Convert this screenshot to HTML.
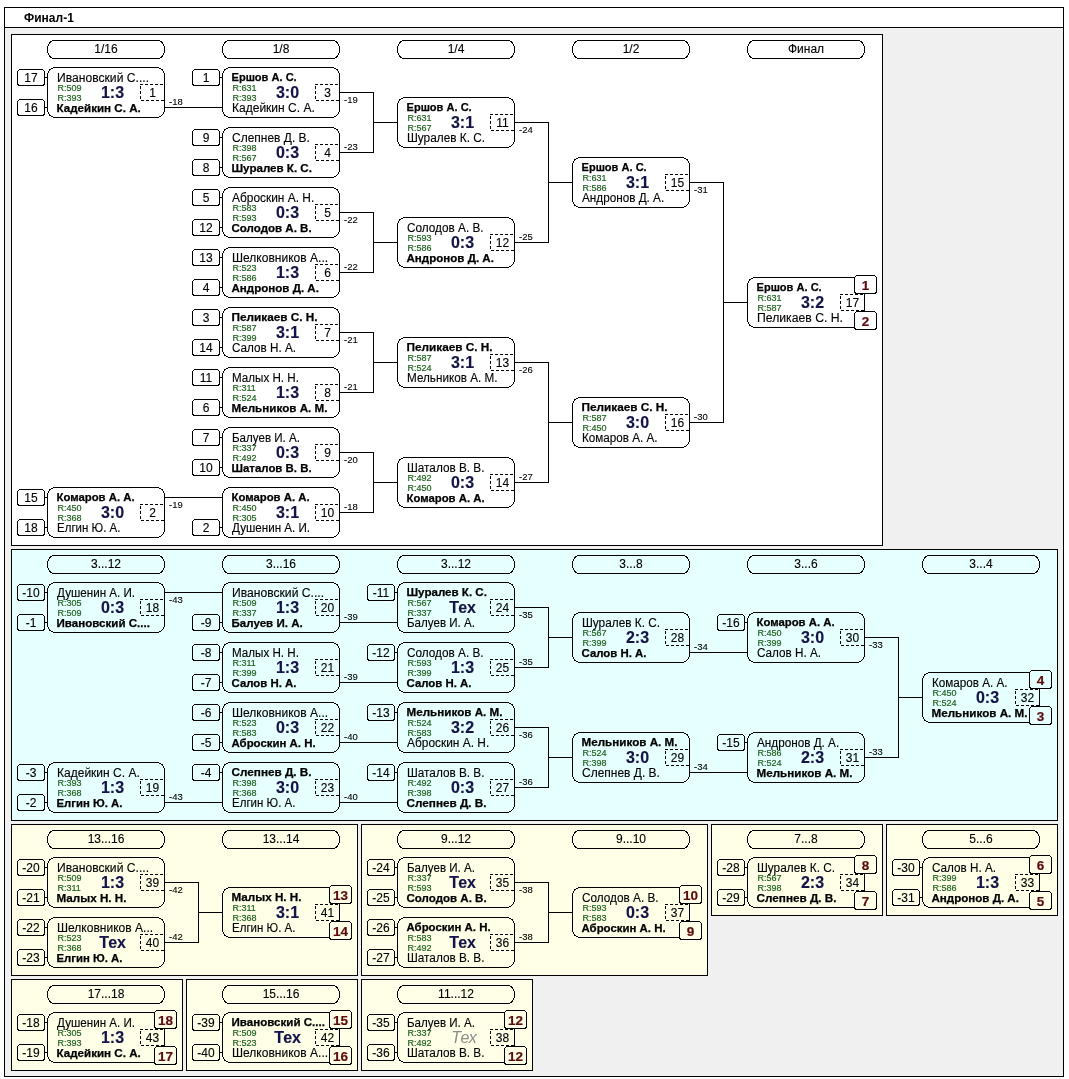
<!DOCTYPE html>
<html lang="ru"><head><meta charset="utf-8"><title>Финал-1</title>
<style>
html,body{margin:0;padding:0;background:#fff;}
body{width:1069px;height:1079px;overflow:hidden;}
svg{display:block;will-change:transform;}
text{font-family:"Liberation Sans",sans-serif;fill:#000;}
.n{font-size:12px;stroke:#000;stroke-width:0.12px;}
.b{font-size:11px;font-weight:bold;stroke:#000;stroke-width:0.25px;}
.r{font-size:9px;fill:#1f5f1f;stroke:#1f5f1f;stroke-width:0.2px;}
.s{font-size:16px;font-weight:bold;fill:#141448;stroke:#141448;stroke-width:0.15px;}
.tg{font-size:16px;font-style:italic;fill:#8c8c8c;}
.l{font-size:9.5px;stroke:#000;stroke-width:0.1px;}
.p{font-size:13.5px;font-weight:bold;fill:#5c0c10;stroke:#5c0c10;stroke-width:0.2px;}
.ttl{font-size:12px;font-weight:bold;}
</style></head>
<body>
<svg width="1069" height="1079" viewBox="0 0 1069 1079">
<g shape-rendering="crispEdges" stroke="#000" stroke-width="1" fill="none">
<rect x="4.5" y="7.5" width="1059" height="1069" fill="#f0f0f0"/>
<rect x="4.5" y="7.5" width="1059" height="20" fill="#fff"/>
<rect x="11.5" y="34.5" width="871" height="511" rx="0" ry="0" fill="#ffffff" stroke="#000" />
<rect x="11.5" y="549.5" width="1046" height="271" rx="0" ry="0" fill="#e6ffff" stroke="#000" />
<rect x="11.5" y="824.5" width="346" height="151" rx="0" ry="0" fill="#ffffe8" stroke="#000" />
<rect x="361.5" y="824.5" width="346" height="151" rx="0" ry="0" fill="#ffffe8" stroke="#000" />
<rect x="711.5" y="824.5" width="171" height="91" rx="0" ry="0" fill="#ffffe8" stroke="#000" />
<rect x="886.5" y="824.5" width="171" height="91" rx="0" ry="0" fill="#ffffe8" stroke="#000" />
<rect x="11.5" y="979.5" width="171" height="91" rx="0" ry="0" fill="#ffffe8" stroke="#000" />
<rect x="186.5" y="979.5" width="171" height="91" rx="0" ry="0" fill="#ffffe8" stroke="#000" />
<rect x="361.5" y="979.5" width="171" height="91" rx="0" ry="0" fill="#ffffe8" stroke="#000" />
</g>
<g shape-rendering="crispEdges" stroke="#000" stroke-width="1" fill="none">
<path d="M45 77.5H47"/>
<path d="M45 107.5H47"/>
<path d="M165 107.5H222"/>
<path d="M45 497.5H47"/>
<path d="M45 527.5H47"/>
<path d="M165 497.5H222"/>
<path d="M220 77.5H222"/>
<path d="M220 137.5H222"/>
<path d="M220 167.5H222"/>
<path d="M340 92.5H374"/>
<path d="M340 152.5H374"/>
<path d="M373.5 92V153"/>
<path d="M374 122.5H397"/>
<path d="M220 197.5H222"/>
<path d="M220 227.5H222"/>
<path d="M220 257.5H222"/>
<path d="M220 287.5H222"/>
<path d="M340 212.5H374"/>
<path d="M340 272.5H374"/>
<path d="M373.5 212V273"/>
<path d="M374 242.5H397"/>
<path d="M220 317.5H222"/>
<path d="M220 347.5H222"/>
<path d="M220 377.5H222"/>
<path d="M220 407.5H222"/>
<path d="M340 332.5H374"/>
<path d="M340 392.5H374"/>
<path d="M373.5 332V393"/>
<path d="M374 362.5H397"/>
<path d="M220 437.5H222"/>
<path d="M220 467.5H222"/>
<path d="M220 527.5H222"/>
<path d="M340 452.5H374"/>
<path d="M340 512.5H374"/>
<path d="M373.5 452V513"/>
<path d="M374 482.5H397"/>
<path d="M515 122.5H549"/>
<path d="M515 242.5H549"/>
<path d="M548.5 122V243"/>
<path d="M549 182.5H572"/>
<path d="M515 362.5H549"/>
<path d="M515 482.5H549"/>
<path d="M548.5 362V483"/>
<path d="M549 422.5H572"/>
<path d="M690 182.5H724"/>
<path d="M690 422.5H724"/>
<path d="M723.5 182V423"/>
<path d="M724 302.5H747"/>
<path d="M45 592.5H47"/>
<path d="M45 622.5H47"/>
<path d="M165 592.5H222"/>
<path d="M45 772.5H47"/>
<path d="M45 802.5H47"/>
<path d="M165 802.5H222"/>
<path d="M220 622.5H222"/>
<path d="M340 622.5H397"/>
<path d="M220 652.5H222"/>
<path d="M220 682.5H222"/>
<path d="M340 682.5H397"/>
<path d="M220 712.5H222"/>
<path d="M220 742.5H222"/>
<path d="M340 742.5H397"/>
<path d="M220 772.5H222"/>
<path d="M340 802.5H397"/>
<path d="M395 592.5H397"/>
<path d="M395 652.5H397"/>
<path d="M515 607.5H549"/>
<path d="M515 667.5H549"/>
<path d="M548.5 607V668"/>
<path d="M549 637.5H572"/>
<path d="M395 712.5H397"/>
<path d="M395 772.5H397"/>
<path d="M515 727.5H549"/>
<path d="M515 787.5H549"/>
<path d="M548.5 727V788"/>
<path d="M549 757.5H572"/>
<path d="M690 652.5H747"/>
<path d="M690 772.5H747"/>
<path d="M745 622.5H747"/>
<path d="M745 742.5H747"/>
<path d="M865 637.5H899"/>
<path d="M865 757.5H899"/>
<path d="M898.5 637V758"/>
<path d="M899 697.5H922"/>
<path d="M45 867.5H47"/>
<path d="M45 897.5H47"/>
<path d="M45 927.5H47"/>
<path d="M45 957.5H47"/>
<path d="M165 882.5H199"/>
<path d="M165 942.5H199"/>
<path d="M198.5 882V943"/>
<path d="M199 912.5H222"/>
<path d="M395 867.5H397"/>
<path d="M395 897.5H397"/>
<path d="M395 927.5H397"/>
<path d="M395 957.5H397"/>
<path d="M515 882.5H549"/>
<path d="M515 942.5H549"/>
<path d="M548.5 882V943"/>
<path d="M549 912.5H572"/>
<path d="M745 867.5H747"/>
<path d="M745 897.5H747"/>
<path d="M920 867.5H922"/>
<path d="M920 897.5H922"/>
<path d="M45 1022.5H47"/>
<path d="M45 1052.5H47"/>
<path d="M220 1022.5H222"/>
<path d="M220 1052.5H222"/>
<path d="M395 1022.5H397"/>
<path d="M395 1052.5H397"/>
</g>
<g shape-rendering="crispEdges" stroke="#000" stroke-width="1" fill="none">
<rect x="47.5" y="40.5" width="117" height="18" rx="6.5" ry="9" fill="#ffffff" stroke="#000" />
<rect x="222.5" y="40.5" width="117" height="18" rx="6.5" ry="9" fill="#ffffff" stroke="#000" />
<rect x="397.5" y="40.5" width="117" height="18" rx="6.5" ry="9" fill="#ffffff" stroke="#000" />
<rect x="572.5" y="40.5" width="117" height="18" rx="6.5" ry="9" fill="#ffffff" stroke="#000" />
<rect x="747.5" y="40.5" width="117" height="18" rx="6.5" ry="9" fill="#ffffff" stroke="#000" />
<rect x="47.5" y="555.5" width="117" height="18" rx="6.5" ry="9" fill="#e6ffff" stroke="#000" />
<rect x="222.5" y="555.5" width="117" height="18" rx="6.5" ry="9" fill="#e6ffff" stroke="#000" />
<rect x="397.5" y="555.5" width="117" height="18" rx="6.5" ry="9" fill="#e6ffff" stroke="#000" />
<rect x="572.5" y="555.5" width="117" height="18" rx="6.5" ry="9" fill="#e6ffff" stroke="#000" />
<rect x="747.5" y="555.5" width="117" height="18" rx="6.5" ry="9" fill="#e6ffff" stroke="#000" />
<rect x="922.5" y="555.5" width="117" height="18" rx="6.5" ry="9" fill="#e6ffff" stroke="#000" />
<rect x="47.5" y="830.5" width="117" height="18" rx="6.5" ry="9" fill="#ffffe8" stroke="#000" />
<rect x="222.5" y="830.5" width="117" height="18" rx="6.5" ry="9" fill="#ffffe8" stroke="#000" />
<rect x="397.5" y="830.5" width="117" height="18" rx="6.5" ry="9" fill="#ffffe8" stroke="#000" />
<rect x="572.5" y="830.5" width="117" height="18" rx="6.5" ry="9" fill="#ffffe8" stroke="#000" />
<rect x="747.5" y="830.5" width="117" height="18" rx="6.5" ry="9" fill="#ffffe8" stroke="#000" />
<rect x="922.5" y="830.5" width="117" height="18" rx="6.5" ry="9" fill="#ffffe8" stroke="#000" />
<rect x="47.5" y="985.5" width="117" height="18" rx="6.5" ry="9" fill="#ffffe8" stroke="#000" />
<rect x="222.5" y="985.5" width="117" height="18" rx="6.5" ry="9" fill="#ffffe8" stroke="#000" />
<rect x="397.5" y="985.5" width="117" height="18" rx="6.5" ry="9" fill="#ffffe8" stroke="#000" />
<rect x="47.5" y="67.5" width="117" height="50" rx="8" ry="8" fill="#ffffff" stroke="#000" />
<rect x="17.5" y="69.5" width="27" height="16" rx="3" ry="3" fill="#ffffff" stroke="#000" />
<rect x="17.5" y="99.5" width="27" height="16" rx="3" ry="3" fill="#ffffff" stroke="#000" />
<rect x="47.5" y="487.5" width="117" height="50" rx="8" ry="8" fill="#ffffff" stroke="#000" />
<rect x="17.5" y="489.5" width="27" height="16" rx="3" ry="3" fill="#ffffff" stroke="#000" />
<rect x="17.5" y="519.5" width="27" height="16" rx="3" ry="3" fill="#ffffff" stroke="#000" />
<rect x="222.5" y="67.5" width="117" height="50" rx="8" ry="8" fill="#ffffff" stroke="#000" />
<rect x="192.5" y="69.5" width="27" height="16" rx="3" ry="3" fill="#ffffff" stroke="#000" />
<rect x="222.5" y="127.5" width="117" height="50" rx="8" ry="8" fill="#ffffff" stroke="#000" />
<rect x="192.5" y="129.5" width="27" height="16" rx="3" ry="3" fill="#ffffff" stroke="#000" />
<rect x="192.5" y="159.5" width="27" height="16" rx="3" ry="3" fill="#ffffff" stroke="#000" />
<rect x="222.5" y="187.5" width="117" height="50" rx="8" ry="8" fill="#ffffff" stroke="#000" />
<rect x="192.5" y="189.5" width="27" height="16" rx="3" ry="3" fill="#ffffff" stroke="#000" />
<rect x="192.5" y="219.5" width="27" height="16" rx="3" ry="3" fill="#ffffff" stroke="#000" />
<rect x="222.5" y="247.5" width="117" height="50" rx="8" ry="8" fill="#ffffff" stroke="#000" />
<rect x="192.5" y="249.5" width="27" height="16" rx="3" ry="3" fill="#ffffff" stroke="#000" />
<rect x="192.5" y="279.5" width="27" height="16" rx="3" ry="3" fill="#ffffff" stroke="#000" />
<rect x="222.5" y="307.5" width="117" height="50" rx="8" ry="8" fill="#ffffff" stroke="#000" />
<rect x="192.5" y="309.5" width="27" height="16" rx="3" ry="3" fill="#ffffff" stroke="#000" />
<rect x="192.5" y="339.5" width="27" height="16" rx="3" ry="3" fill="#ffffff" stroke="#000" />
<rect x="222.5" y="367.5" width="117" height="50" rx="8" ry="8" fill="#ffffff" stroke="#000" />
<rect x="192.5" y="369.5" width="27" height="16" rx="3" ry="3" fill="#ffffff" stroke="#000" />
<rect x="192.5" y="399.5" width="27" height="16" rx="3" ry="3" fill="#ffffff" stroke="#000" />
<rect x="222.5" y="427.5" width="117" height="50" rx="8" ry="8" fill="#ffffff" stroke="#000" />
<rect x="192.5" y="429.5" width="27" height="16" rx="3" ry="3" fill="#ffffff" stroke="#000" />
<rect x="192.5" y="459.5" width="27" height="16" rx="3" ry="3" fill="#ffffff" stroke="#000" />
<rect x="222.5" y="487.5" width="117" height="50" rx="8" ry="8" fill="#ffffff" stroke="#000" />
<rect x="192.5" y="519.5" width="27" height="16" rx="3" ry="3" fill="#ffffff" stroke="#000" />
<rect x="397.5" y="97.5" width="117" height="50" rx="8" ry="8" fill="#ffffff" stroke="#000" />
<rect x="397.5" y="217.5" width="117" height="50" rx="8" ry="8" fill="#ffffff" stroke="#000" />
<rect x="397.5" y="337.5" width="117" height="50" rx="8" ry="8" fill="#ffffff" stroke="#000" />
<rect x="397.5" y="457.5" width="117" height="50" rx="8" ry="8" fill="#ffffff" stroke="#000" />
<rect x="572.5" y="157.5" width="117" height="50" rx="8" ry="8" fill="#ffffff" stroke="#000" />
<rect x="572.5" y="397.5" width="117" height="50" rx="8" ry="8" fill="#ffffff" stroke="#000" />
<rect x="747.5" y="277.5" width="117" height="50" rx="8" ry="8" fill="#ffffff" stroke="#000" />
<rect x="47.5" y="582.5" width="117" height="50" rx="8" ry="8" fill="#e6ffff" stroke="#000" />
<rect x="17.5" y="584.5" width="27" height="16" rx="3" ry="3" fill="#e6ffff" stroke="#000" />
<rect x="17.5" y="614.5" width="27" height="16" rx="3" ry="3" fill="#e6ffff" stroke="#000" />
<rect x="47.5" y="762.5" width="117" height="50" rx="8" ry="8" fill="#e6ffff" stroke="#000" />
<rect x="17.5" y="764.5" width="27" height="16" rx="3" ry="3" fill="#e6ffff" stroke="#000" />
<rect x="17.5" y="794.5" width="27" height="16" rx="3" ry="3" fill="#e6ffff" stroke="#000" />
<rect x="222.5" y="582.5" width="117" height="50" rx="8" ry="8" fill="#e6ffff" stroke="#000" />
<rect x="192.5" y="614.5" width="27" height="16" rx="3" ry="3" fill="#e6ffff" stroke="#000" />
<rect x="222.5" y="642.5" width="117" height="50" rx="8" ry="8" fill="#e6ffff" stroke="#000" />
<rect x="192.5" y="644.5" width="27" height="16" rx="3" ry="3" fill="#e6ffff" stroke="#000" />
<rect x="192.5" y="674.5" width="27" height="16" rx="3" ry="3" fill="#e6ffff" stroke="#000" />
<rect x="222.5" y="702.5" width="117" height="50" rx="8" ry="8" fill="#e6ffff" stroke="#000" />
<rect x="192.5" y="704.5" width="27" height="16" rx="3" ry="3" fill="#e6ffff" stroke="#000" />
<rect x="192.5" y="734.5" width="27" height="16" rx="3" ry="3" fill="#e6ffff" stroke="#000" />
<rect x="222.5" y="762.5" width="117" height="50" rx="8" ry="8" fill="#e6ffff" stroke="#000" />
<rect x="192.5" y="764.5" width="27" height="16" rx="3" ry="3" fill="#e6ffff" stroke="#000" />
<rect x="397.5" y="582.5" width="117" height="50" rx="8" ry="8" fill="#e6ffff" stroke="#000" />
<rect x="367.5" y="584.5" width="27" height="16" rx="3" ry="3" fill="#e6ffff" stroke="#000" />
<rect x="397.5" y="642.5" width="117" height="50" rx="8" ry="8" fill="#e6ffff" stroke="#000" />
<rect x="367.5" y="644.5" width="27" height="16" rx="3" ry="3" fill="#e6ffff" stroke="#000" />
<rect x="397.5" y="702.5" width="117" height="50" rx="8" ry="8" fill="#e6ffff" stroke="#000" />
<rect x="367.5" y="704.5" width="27" height="16" rx="3" ry="3" fill="#e6ffff" stroke="#000" />
<rect x="397.5" y="762.5" width="117" height="50" rx="8" ry="8" fill="#e6ffff" stroke="#000" />
<rect x="367.5" y="764.5" width="27" height="16" rx="3" ry="3" fill="#e6ffff" stroke="#000" />
<rect x="572.5" y="612.5" width="117" height="50" rx="8" ry="8" fill="#e6ffff" stroke="#000" />
<rect x="572.5" y="732.5" width="117" height="50" rx="8" ry="8" fill="#e6ffff" stroke="#000" />
<rect x="747.5" y="612.5" width="117" height="50" rx="8" ry="8" fill="#e6ffff" stroke="#000" />
<rect x="717.5" y="614.5" width="27" height="16" rx="3" ry="3" fill="#e6ffff" stroke="#000" />
<rect x="747.5" y="732.5" width="117" height="50" rx="8" ry="8" fill="#e6ffff" stroke="#000" />
<rect x="717.5" y="734.5" width="27" height="16" rx="3" ry="3" fill="#e6ffff" stroke="#000" />
<rect x="922.5" y="672.5" width="117" height="50" rx="8" ry="8" fill="#e6ffff" stroke="#000" />
<rect x="47.5" y="857.5" width="117" height="50" rx="8" ry="8" fill="#ffffe8" stroke="#000" />
<rect x="17.5" y="859.5" width="27" height="16" rx="3" ry="3" fill="#ffffe8" stroke="#000" />
<rect x="17.5" y="889.5" width="27" height="16" rx="3" ry="3" fill="#ffffe8" stroke="#000" />
<rect x="47.5" y="917.5" width="117" height="50" rx="8" ry="8" fill="#ffffe8" stroke="#000" />
<rect x="17.5" y="919.5" width="27" height="16" rx="3" ry="3" fill="#ffffe8" stroke="#000" />
<rect x="17.5" y="949.5" width="27" height="16" rx="3" ry="3" fill="#ffffe8" stroke="#000" />
<rect x="222.5" y="887.5" width="117" height="50" rx="8" ry="8" fill="#ffffe8" stroke="#000" />
<rect x="397.5" y="857.5" width="117" height="50" rx="8" ry="8" fill="#ffffe8" stroke="#000" />
<rect x="367.5" y="859.5" width="27" height="16" rx="3" ry="3" fill="#ffffe8" stroke="#000" />
<rect x="367.5" y="889.5" width="27" height="16" rx="3" ry="3" fill="#ffffe8" stroke="#000" />
<rect x="397.5" y="917.5" width="117" height="50" rx="8" ry="8" fill="#ffffe8" stroke="#000" />
<rect x="367.5" y="919.5" width="27" height="16" rx="3" ry="3" fill="#ffffe8" stroke="#000" />
<rect x="367.5" y="949.5" width="27" height="16" rx="3" ry="3" fill="#ffffe8" stroke="#000" />
<rect x="572.5" y="887.5" width="117" height="50" rx="8" ry="8" fill="#ffffe8" stroke="#000" />
<rect x="747.5" y="857.5" width="117" height="50" rx="8" ry="8" fill="#ffffe8" stroke="#000" />
<rect x="717.5" y="859.5" width="27" height="16" rx="3" ry="3" fill="#ffffe8" stroke="#000" />
<rect x="717.5" y="889.5" width="27" height="16" rx="3" ry="3" fill="#ffffe8" stroke="#000" />
<rect x="922.5" y="857.5" width="117" height="50" rx="8" ry="8" fill="#ffffe8" stroke="#000" />
<rect x="892.5" y="859.5" width="27" height="16" rx="3" ry="3" fill="#ffffe8" stroke="#000" />
<rect x="892.5" y="889.5" width="27" height="16" rx="3" ry="3" fill="#ffffe8" stroke="#000" />
<rect x="47.5" y="1012.5" width="117" height="50" rx="8" ry="8" fill="#ffffe8" stroke="#000" />
<rect x="17.5" y="1014.5" width="27" height="16" rx="3" ry="3" fill="#ffffe8" stroke="#000" />
<rect x="17.5" y="1044.5" width="27" height="16" rx="3" ry="3" fill="#ffffe8" stroke="#000" />
<rect x="222.5" y="1012.5" width="117" height="50" rx="8" ry="8" fill="#ffffe8" stroke="#000" />
<rect x="192.5" y="1014.5" width="27" height="16" rx="3" ry="3" fill="#ffffe8" stroke="#000" />
<rect x="192.5" y="1044.5" width="27" height="16" rx="3" ry="3" fill="#ffffe8" stroke="#000" />
<rect x="397.5" y="1012.5" width="117" height="50" rx="8" ry="8" fill="#ffffe8" stroke="#000" />
<rect x="367.5" y="1014.5" width="27" height="16" rx="3" ry="3" fill="#ffffe8" stroke="#000" />
<rect x="367.5" y="1044.5" width="27" height="16" rx="3" ry="3" fill="#ffffe8" stroke="#000" />
</g>
<g shape-rendering="crispEdges" stroke="#000" stroke-width="1" fill="none" stroke-dasharray="3 2">
<path d="M140 84.5H164M140.5 86V101M141 100.5H164"/>
<path d="M140 504.5H164M140.5 506V521M141 520.5H164"/>
<path d="M315 84.5H339M315.5 86V101M316 100.5H339"/>
<path d="M315 144.5H339M315.5 146V161M316 160.5H339"/>
<path d="M315 204.5H339M315.5 206V221M316 220.5H339"/>
<path d="M315 264.5H339M315.5 266V281M316 280.5H339"/>
<path d="M315 324.5H339M315.5 326V341M316 340.5H339"/>
<path d="M315 384.5H339M315.5 386V401M316 400.5H339"/>
<path d="M315 444.5H339M315.5 446V461M316 460.5H339"/>
<path d="M315 504.5H339M315.5 506V521M316 520.5H339"/>
<path d="M490 114.5H514M490.5 116V131M491 130.5H514"/>
<path d="M490 234.5H514M490.5 236V251M491 250.5H514"/>
<path d="M490 354.5H514M490.5 356V371M491 370.5H514"/>
<path d="M490 474.5H514M490.5 476V491M491 490.5H514"/>
<path d="M665 174.5H689M665.5 176V191M666 190.5H689"/>
<path d="M665 414.5H689M665.5 416V431M666 430.5H689"/>
<path d="M840 294.5H864M840.5 296V311M841 310.5H864"/>
<path d="M140 599.5H164M140.5 601V616M141 615.5H164"/>
<path d="M140 779.5H164M140.5 781V796M141 795.5H164"/>
<path d="M315 599.5H339M315.5 601V616M316 615.5H339"/>
<path d="M315 659.5H339M315.5 661V676M316 675.5H339"/>
<path d="M315 719.5H339M315.5 721V736M316 735.5H339"/>
<path d="M315 779.5H339M315.5 781V796M316 795.5H339"/>
<path d="M490 599.5H514M490.5 601V616M491 615.5H514"/>
<path d="M490 659.5H514M490.5 661V676M491 675.5H514"/>
<path d="M490 719.5H514M490.5 721V736M491 735.5H514"/>
<path d="M490 779.5H514M490.5 781V796M491 795.5H514"/>
<path d="M665 629.5H689M665.5 631V646M666 645.5H689"/>
<path d="M665 749.5H689M665.5 751V766M666 765.5H689"/>
<path d="M840 629.5H864M840.5 631V646M841 645.5H864"/>
<path d="M840 749.5H864M840.5 751V766M841 765.5H864"/>
<path d="M1015 689.5H1039M1015.5 691V706M1016 705.5H1039"/>
<path d="M140 874.5H164M140.5 876V891M141 890.5H164"/>
<path d="M140 934.5H164M140.5 936V951M141 950.5H164"/>
<path d="M315 904.5H339M315.5 906V921M316 920.5H339"/>
<path d="M490 874.5H514M490.5 876V891M491 890.5H514"/>
<path d="M490 934.5H514M490.5 936V951M491 950.5H514"/>
<path d="M665 904.5H689M665.5 906V921M666 920.5H689"/>
<path d="M840 874.5H864M840.5 876V891M841 890.5H864"/>
<path d="M1015 874.5H1039M1015.5 876V891M1016 890.5H1039"/>
<path d="M140 1029.5H164M140.5 1031V1046M141 1045.5H164"/>
<path d="M315 1029.5H339M315.5 1031V1046M316 1045.5H339"/>
<path d="M490 1029.5H514M490.5 1031V1046M491 1045.5H514"/>
</g>
<g shape-rendering="crispEdges" stroke="#000" stroke-width="1">
<rect x="854.5" y="275.5" width="22" height="18" rx="3" ry="3" fill="#ffffff" stroke="#000" />
<rect x="854.5" y="311.5" width="22" height="18" rx="3" ry="3" fill="#ffffff" stroke="#000" />
<rect x="1029.5" y="670.5" width="22" height="18" rx="3" ry="3" fill="#e6ffff" stroke="#000" />
<rect x="1029.5" y="706.5" width="22" height="18" rx="3" ry="3" fill="#e6ffff" stroke="#000" />
<rect x="329.5" y="885.5" width="22" height="18" rx="3" ry="3" fill="#ffffe8" stroke="#000" />
<rect x="329.5" y="921.5" width="22" height="18" rx="3" ry="3" fill="#ffffe8" stroke="#000" />
<rect x="679.5" y="885.5" width="22" height="18" rx="3" ry="3" fill="#ffffe8" stroke="#000" />
<rect x="679.5" y="921.5" width="22" height="18" rx="3" ry="3" fill="#ffffe8" stroke="#000" />
<rect x="854.5" y="855.5" width="22" height="18" rx="3" ry="3" fill="#ffffe8" stroke="#000" />
<rect x="854.5" y="891.5" width="22" height="18" rx="3" ry="3" fill="#ffffe8" stroke="#000" />
<rect x="1029.5" y="855.5" width="22" height="18" rx="3" ry="3" fill="#ffffe8" stroke="#000" />
<rect x="1029.5" y="891.5" width="22" height="18" rx="3" ry="3" fill="#ffffe8" stroke="#000" />
<rect x="154.5" y="1010.5" width="22" height="18" rx="3" ry="3" fill="#ffffe8" stroke="#000" />
<rect x="154.5" y="1046.5" width="22" height="18" rx="3" ry="3" fill="#ffffe8" stroke="#000" />
<rect x="329.5" y="1010.5" width="22" height="18" rx="3" ry="3" fill="#ffffe8" stroke="#000" />
<rect x="329.5" y="1046.5" width="22" height="18" rx="3" ry="3" fill="#ffffe8" stroke="#000" />
<rect x="504.5" y="1010.5" width="22" height="18" rx="3" ry="3" fill="#ffffe8" stroke="#000" />
<rect x="504.5" y="1046.5" width="22" height="18" rx="3" ry="3" fill="#ffffe8" stroke="#000" />
</g>
<g>
<text x="24" y="22" class="ttl">Финал-1</text>
<text x="106" y="52.6" class="n" text-anchor="middle">1/16</text>
<text x="281" y="52.6" class="n" text-anchor="middle">1/8</text>
<text x="456" y="52.6" class="n" text-anchor="middle">1/4</text>
<text x="631" y="52.6" class="n" text-anchor="middle">1/2</text>
<text x="806" y="52.6" class="n" text-anchor="middle">Финал</text>
<text x="106" y="567.6" class="n" text-anchor="middle">3...12</text>
<text x="281" y="567.6" class="n" text-anchor="middle">3...16</text>
<text x="456" y="567.6" class="n" text-anchor="middle">3...12</text>
<text x="631" y="567.6" class="n" text-anchor="middle">3...8</text>
<text x="806" y="567.6" class="n" text-anchor="middle">3...6</text>
<text x="981" y="567.6" class="n" text-anchor="middle">3...4</text>
<text x="106" y="842.6" class="n" text-anchor="middle">13...16</text>
<text x="281" y="842.6" class="n" text-anchor="middle">13...14</text>
<text x="456" y="842.6" class="n" text-anchor="middle">9...12</text>
<text x="631" y="842.6" class="n" text-anchor="middle">9...10</text>
<text x="806" y="842.6" class="n" text-anchor="middle">7...8</text>
<text x="981" y="842.6" class="n" text-anchor="middle">5...6</text>
<text x="106" y="997.6" class="n" text-anchor="middle">17...18</text>
<text x="281" y="997.6" class="n" text-anchor="middle">15...16</text>
<text x="456" y="997.6" class="n" text-anchor="middle">11...12</text>
<text x="57" y="81.6" class="n" textLength="92.0" lengthAdjust="spacingAndGlyphs">Ивановский С....</text>
<text x="56.5" y="111.7" class="b" textLength="84.3" lengthAdjust="spacingAndGlyphs">Кадейкин С. А.</text>
<text x="57.5" y="90.8" class="r">R:509</text>
<text x="57.5" y="101.4" class="r">R:393</text>
<text x="112.5" y="97.5" class="s" text-anchor="middle">1:3</text>
<text x="152.5" y="97" class="n" text-anchor="middle">1</text>
<text x="31" y="82" class="n" text-anchor="middle">17</text>
<text x="31" y="112" class="n" text-anchor="middle">16</text>
<text x="169" y="105" class="l">-18</text>
<text x="56.5" y="501.2" class="b" textLength="78.1" lengthAdjust="spacingAndGlyphs">Комаров А. А.</text>
<text x="57" y="531.9" class="n" textLength="63.5" lengthAdjust="spacingAndGlyphs">Елгин Ю. А.</text>
<text x="57.5" y="510.8" class="r">R:450</text>
<text x="57.5" y="521.4" class="r">R:368</text>
<text x="112.5" y="517.5" class="s" text-anchor="middle">3:0</text>
<text x="152.5" y="517" class="n" text-anchor="middle">2</text>
<text x="31" y="502" class="n" text-anchor="middle">15</text>
<text x="31" y="532" class="n" text-anchor="middle">18</text>
<text x="169" y="508" class="l">-19</text>
<text x="231.5" y="81.2" class="b" textLength="65.2" lengthAdjust="spacingAndGlyphs">Ершов А. С.</text>
<text x="232" y="111.9" class="n" textLength="82.8" lengthAdjust="spacingAndGlyphs">Кадейкин С. А.</text>
<text x="232.5" y="90.8" class="r">R:631</text>
<text x="232.5" y="101.4" class="r">R:393</text>
<text x="287.5" y="97.5" class="s" text-anchor="middle">3:0</text>
<text x="327.5" y="97" class="n" text-anchor="middle">3</text>
<text x="206" y="82" class="n" text-anchor="middle">1</text>
<text x="344" y="103" class="l">-19</text>
<text x="232" y="141.6" class="n" textLength="77.9" lengthAdjust="spacingAndGlyphs">Слепнев Д. В.</text>
<text x="231.5" y="171.7" class="b" textLength="80.4" lengthAdjust="spacingAndGlyphs">Шуралев К. С.</text>
<text x="232.5" y="150.8" class="r">R:398</text>
<text x="232.5" y="161.4" class="r">R:567</text>
<text x="287.5" y="157.5" class="s" text-anchor="middle">0:3</text>
<text x="327.5" y="157" class="n" text-anchor="middle">4</text>
<text x="206" y="142" class="n" text-anchor="middle">9</text>
<text x="206" y="172" class="n" text-anchor="middle">8</text>
<text x="344" y="150" class="l">-23</text>
<text x="232" y="201.6" class="n" textLength="82.2" lengthAdjust="spacingAndGlyphs">Аброскин А. Н.</text>
<text x="231.5" y="231.7" class="b" textLength="80.1" lengthAdjust="spacingAndGlyphs">Солодов А. В.</text>
<text x="232.5" y="210.8" class="r">R:583</text>
<text x="232.5" y="221.4" class="r">R:593</text>
<text x="287.5" y="217.5" class="s" text-anchor="middle">0:3</text>
<text x="327.5" y="217" class="n" text-anchor="middle">5</text>
<text x="206" y="202" class="n" text-anchor="middle">5</text>
<text x="206" y="232" class="n" text-anchor="middle">12</text>
<text x="344" y="223" class="l">-22</text>
<text x="232" y="261.6" class="n" textLength="96.1" lengthAdjust="spacingAndGlyphs">Шелковников А...</text>
<text x="231.5" y="291.7" class="b" textLength="87.4" lengthAdjust="spacingAndGlyphs">Андронов Д. А.</text>
<text x="232.5" y="270.8" class="r">R:523</text>
<text x="232.5" y="281.4" class="r">R:586</text>
<text x="287.5" y="277.5" class="s" text-anchor="middle">1:3</text>
<text x="327.5" y="277" class="n" text-anchor="middle">6</text>
<text x="206" y="262" class="n" text-anchor="middle">13</text>
<text x="206" y="292" class="n" text-anchor="middle">4</text>
<text x="344" y="270" class="l">-22</text>
<text x="231.5" y="321.2" class="b" textLength="86.1" lengthAdjust="spacingAndGlyphs">Пеликаев С. Н.</text>
<text x="232" y="351.9" class="n" textLength="64.1" lengthAdjust="spacingAndGlyphs">Салов Н. А.</text>
<text x="232.5" y="330.8" class="r">R:587</text>
<text x="232.5" y="341.4" class="r">R:399</text>
<text x="287.5" y="337.5" class="s" text-anchor="middle">3:1</text>
<text x="327.5" y="337" class="n" text-anchor="middle">7</text>
<text x="206" y="322" class="n" text-anchor="middle">3</text>
<text x="206" y="352" class="n" text-anchor="middle">14</text>
<text x="344" y="343" class="l">-21</text>
<text x="232" y="381.6" class="n" textLength="66.9" lengthAdjust="spacingAndGlyphs">Малых Н. Н.</text>
<text x="231.5" y="411.7" class="b" textLength="96.0" lengthAdjust="spacingAndGlyphs">Мельников А. М.</text>
<text x="232.5" y="390.8" class="r">R:311</text>
<text x="232.5" y="401.4" class="r">R:524</text>
<text x="287.5" y="397.5" class="s" text-anchor="middle">1:3</text>
<text x="327.5" y="397" class="n" text-anchor="middle">8</text>
<text x="206" y="382" class="n" text-anchor="middle">11</text>
<text x="206" y="412" class="n" text-anchor="middle">6</text>
<text x="344" y="390" class="l">-21</text>
<text x="232" y="441.6" class="n" textLength="68.0" lengthAdjust="spacingAndGlyphs">Балуев И. А.</text>
<text x="231.5" y="471.7" class="b" textLength="80.1" lengthAdjust="spacingAndGlyphs">Шаталов В. В.</text>
<text x="232.5" y="450.8" class="r">R:337</text>
<text x="232.5" y="461.4" class="r">R:492</text>
<text x="287.5" y="457.5" class="s" text-anchor="middle">0:3</text>
<text x="327.5" y="457" class="n" text-anchor="middle">9</text>
<text x="206" y="442" class="n" text-anchor="middle">7</text>
<text x="206" y="472" class="n" text-anchor="middle">10</text>
<text x="344" y="463" class="l">-20</text>
<text x="231.5" y="501.2" class="b" textLength="78.1" lengthAdjust="spacingAndGlyphs">Комаров А. А.</text>
<text x="232" y="531.9" class="n" textLength="78.1" lengthAdjust="spacingAndGlyphs">Душенин А. И.</text>
<text x="232.5" y="510.8" class="r">R:450</text>
<text x="232.5" y="521.4" class="r">R:305</text>
<text x="287.5" y="517.5" class="s" text-anchor="middle">3:1</text>
<text x="327.5" y="517" class="n" text-anchor="middle">10</text>
<text x="206" y="532" class="n" text-anchor="middle">2</text>
<text x="344" y="510" class="l">-18</text>
<text x="406.5" y="111.2" class="b" textLength="65.2" lengthAdjust="spacingAndGlyphs">Ершов А. С.</text>
<text x="407" y="141.9" class="n" textLength="78.1" lengthAdjust="spacingAndGlyphs">Шуралев К. С.</text>
<text x="407.5" y="120.8" class="r">R:631</text>
<text x="407.5" y="131.4" class="r">R:567</text>
<text x="462.5" y="127.5" class="s" text-anchor="middle">3:1</text>
<text x="502.5" y="127" class="n" text-anchor="middle">11</text>
<text x="519" y="133" class="l">-24</text>
<text x="407" y="231.6" class="n" textLength="76.6" lengthAdjust="spacingAndGlyphs">Солодов А. В.</text>
<text x="406.5" y="261.7" class="b" textLength="87.4" lengthAdjust="spacingAndGlyphs">Андронов Д. А.</text>
<text x="407.5" y="240.8" class="r">R:593</text>
<text x="407.5" y="251.4" class="r">R:586</text>
<text x="462.5" y="247.5" class="s" text-anchor="middle">0:3</text>
<text x="502.5" y="247" class="n" text-anchor="middle">12</text>
<text x="519" y="240" class="l">-25</text>
<text x="406.5" y="351.2" class="b" textLength="86.1" lengthAdjust="spacingAndGlyphs">Пеликаев С. Н.</text>
<text x="407" y="381.9" class="n" textLength="90.5" lengthAdjust="spacingAndGlyphs">Мельников А. М.</text>
<text x="407.5" y="360.8" class="r">R:587</text>
<text x="407.5" y="371.4" class="r">R:524</text>
<text x="462.5" y="367.5" class="s" text-anchor="middle">3:1</text>
<text x="502.5" y="367" class="n" text-anchor="middle">13</text>
<text x="519" y="373" class="l">-26</text>
<text x="407" y="471.6" class="n" textLength="77.5" lengthAdjust="spacingAndGlyphs">Шаталов В. В.</text>
<text x="406.5" y="501.7" class="b" textLength="78.1" lengthAdjust="spacingAndGlyphs">Комаров А. А.</text>
<text x="407.5" y="480.8" class="r">R:492</text>
<text x="407.5" y="491.4" class="r">R:450</text>
<text x="462.5" y="487.5" class="s" text-anchor="middle">0:3</text>
<text x="502.5" y="487" class="n" text-anchor="middle">14</text>
<text x="519" y="480" class="l">-27</text>
<text x="581.5" y="171.2" class="b" textLength="65.2" lengthAdjust="spacingAndGlyphs">Ершов А. С.</text>
<text x="582" y="201.9" class="n" textLength="82.2" lengthAdjust="spacingAndGlyphs">Андронов Д. А.</text>
<text x="582.5" y="180.8" class="r">R:631</text>
<text x="582.5" y="191.4" class="r">R:586</text>
<text x="637.5" y="187.5" class="s" text-anchor="middle">3:1</text>
<text x="677.5" y="187" class="n" text-anchor="middle">15</text>
<text x="694" y="193" class="l">-31</text>
<text x="581.5" y="411.2" class="b" textLength="86.1" lengthAdjust="spacingAndGlyphs">Пеликаев С. Н.</text>
<text x="582" y="441.9" class="n" textLength="75.6" lengthAdjust="spacingAndGlyphs">Комаров А. А.</text>
<text x="582.5" y="420.8" class="r">R:587</text>
<text x="582.5" y="431.4" class="r">R:450</text>
<text x="637.5" y="427.5" class="s" text-anchor="middle">3:0</text>
<text x="677.5" y="427" class="n" text-anchor="middle">16</text>
<text x="694" y="420" class="l">-30</text>
<text x="756.5" y="291.2" class="b" textLength="65.2" lengthAdjust="spacingAndGlyphs">Ершов А. С.</text>
<text x="757" y="321.9" class="n" textLength="86.0" lengthAdjust="spacingAndGlyphs">Пеликаев С. Н.</text>
<text x="757.5" y="300.8" class="r">R:631</text>
<text x="757.5" y="311.4" class="r">R:587</text>
<text x="812.5" y="307.5" class="s" text-anchor="middle">3:2</text>
<text x="852.5" y="307" class="n" text-anchor="middle">17</text>
<text x="865.5" y="290" class="p" text-anchor="middle">1</text>
<text x="865.5" y="326" class="p" text-anchor="middle">2</text>
<text x="57" y="596.6" class="n" textLength="78.1" lengthAdjust="spacingAndGlyphs">Душенин А. И.</text>
<text x="56.5" y="626.7" class="b" textLength="93.4" lengthAdjust="spacingAndGlyphs">Ивановский С....</text>
<text x="57.5" y="605.8" class="r">R:305</text>
<text x="57.5" y="616.4" class="r">R:509</text>
<text x="112.5" y="612.5" class="s" text-anchor="middle">0:3</text>
<text x="152.5" y="612" class="n" text-anchor="middle">18</text>
<text x="31" y="597" class="n" text-anchor="middle">-10</text>
<text x="31" y="627" class="n" text-anchor="middle">-1</text>
<text x="169" y="603" class="l">-43</text>
<text x="57" y="776.6" class="n" textLength="82.8" lengthAdjust="spacingAndGlyphs">Кадейкин С. А.</text>
<text x="56.5" y="806.7" class="b" textLength="65.9" lengthAdjust="spacingAndGlyphs">Елгин Ю. А.</text>
<text x="57.5" y="785.8" class="r">R:393</text>
<text x="57.5" y="796.4" class="r">R:368</text>
<text x="112.5" y="792.5" class="s" text-anchor="middle">1:3</text>
<text x="152.5" y="792" class="n" text-anchor="middle">19</text>
<text x="31" y="777" class="n" text-anchor="middle">-3</text>
<text x="31" y="807" class="n" text-anchor="middle">-2</text>
<text x="169" y="800" class="l">-43</text>
<text x="232" y="596.6" class="n" textLength="92.0" lengthAdjust="spacingAndGlyphs">Ивановский С....</text>
<text x="231.5" y="626.7" class="b" textLength="71.2" lengthAdjust="spacingAndGlyphs">Балуев И. А.</text>
<text x="232.5" y="605.8" class="r">R:509</text>
<text x="232.5" y="616.4" class="r">R:337</text>
<text x="287.5" y="612.5" class="s" text-anchor="middle">1:3</text>
<text x="327.5" y="612" class="n" text-anchor="middle">20</text>
<text x="206" y="627" class="n" text-anchor="middle">-9</text>
<text x="344" y="620" class="l">-39</text>
<text x="232" y="656.6" class="n" textLength="66.9" lengthAdjust="spacingAndGlyphs">Малых Н. Н.</text>
<text x="231.5" y="686.7" class="b" textLength="65.0" lengthAdjust="spacingAndGlyphs">Салов Н. А.</text>
<text x="232.5" y="665.8" class="r">R:311</text>
<text x="232.5" y="676.4" class="r">R:399</text>
<text x="287.5" y="672.5" class="s" text-anchor="middle">1:3</text>
<text x="327.5" y="672" class="n" text-anchor="middle">21</text>
<text x="206" y="657" class="n" text-anchor="middle">-8</text>
<text x="206" y="687" class="n" text-anchor="middle">-7</text>
<text x="344" y="680" class="l">-39</text>
<text x="232" y="716.6" class="n" textLength="96.1" lengthAdjust="spacingAndGlyphs">Шелковников А...</text>
<text x="231.5" y="746.7" class="b" textLength="84.1" lengthAdjust="spacingAndGlyphs">Аброскин А. Н.</text>
<text x="232.5" y="725.8" class="r">R:523</text>
<text x="232.5" y="736.4" class="r">R:583</text>
<text x="287.5" y="732.5" class="s" text-anchor="middle">0:3</text>
<text x="327.5" y="732" class="n" text-anchor="middle">22</text>
<text x="206" y="717" class="n" text-anchor="middle">-6</text>
<text x="206" y="747" class="n" text-anchor="middle">-5</text>
<text x="344" y="740" class="l">-40</text>
<text x="231.5" y="776.2" class="b" textLength="80.1" lengthAdjust="spacingAndGlyphs">Слепнев Д. В.</text>
<text x="232" y="806.9" class="n" textLength="63.5" lengthAdjust="spacingAndGlyphs">Елгин Ю. А.</text>
<text x="232.5" y="785.8" class="r">R:398</text>
<text x="232.5" y="796.4" class="r">R:368</text>
<text x="287.5" y="792.5" class="s" text-anchor="middle">3:0</text>
<text x="327.5" y="792" class="n" text-anchor="middle">23</text>
<text x="206" y="777" class="n" text-anchor="middle">-4</text>
<text x="344" y="800" class="l">-40</text>
<text x="406.5" y="596.2" class="b" textLength="80.4" lengthAdjust="spacingAndGlyphs">Шуралев К. С.</text>
<text x="407" y="626.9" class="n" textLength="68.0" lengthAdjust="spacingAndGlyphs">Балуев И. А.</text>
<text x="407.5" y="605.8" class="r">R:567</text>
<text x="407.5" y="616.4" class="r">R:337</text>
<text x="462.5" y="612.5" class="s" text-anchor="middle">Тех</text>
<text x="502.5" y="612" class="n" text-anchor="middle">24</text>
<text x="381" y="597" class="n" text-anchor="middle">-11</text>
<text x="519" y="618" class="l">-35</text>
<text x="407" y="656.6" class="n" textLength="76.6" lengthAdjust="spacingAndGlyphs">Солодов А. В.</text>
<text x="406.5" y="686.7" class="b" textLength="65.0" lengthAdjust="spacingAndGlyphs">Салов Н. А.</text>
<text x="407.5" y="665.8" class="r">R:593</text>
<text x="407.5" y="676.4" class="r">R:399</text>
<text x="462.5" y="672.5" class="s" text-anchor="middle">1:3</text>
<text x="502.5" y="672" class="n" text-anchor="middle">25</text>
<text x="381" y="657" class="n" text-anchor="middle">-12</text>
<text x="519" y="665" class="l">-35</text>
<text x="406.5" y="716.2" class="b" textLength="96.0" lengthAdjust="spacingAndGlyphs">Мельников А. М.</text>
<text x="407" y="746.9" class="n" textLength="82.2" lengthAdjust="spacingAndGlyphs">Аброскин А. Н.</text>
<text x="407.5" y="725.8" class="r">R:524</text>
<text x="407.5" y="736.4" class="r">R:583</text>
<text x="462.5" y="732.5" class="s" text-anchor="middle">3:2</text>
<text x="502.5" y="732" class="n" text-anchor="middle">26</text>
<text x="381" y="717" class="n" text-anchor="middle">-13</text>
<text x="519" y="738" class="l">-36</text>
<text x="407" y="776.6" class="n" textLength="77.5" lengthAdjust="spacingAndGlyphs">Шаталов В. В.</text>
<text x="406.5" y="806.7" class="b" textLength="80.1" lengthAdjust="spacingAndGlyphs">Слепнев Д. В.</text>
<text x="407.5" y="785.8" class="r">R:492</text>
<text x="407.5" y="796.4" class="r">R:398</text>
<text x="462.5" y="792.5" class="s" text-anchor="middle">0:3</text>
<text x="502.5" y="792" class="n" text-anchor="middle">27</text>
<text x="381" y="777" class="n" text-anchor="middle">-14</text>
<text x="519" y="785" class="l">-36</text>
<text x="582" y="626.6" class="n" textLength="78.1" lengthAdjust="spacingAndGlyphs">Шуралев К. С.</text>
<text x="581.5" y="656.7" class="b" textLength="65.0" lengthAdjust="spacingAndGlyphs">Салов Н. А.</text>
<text x="582.5" y="635.8" class="r">R:567</text>
<text x="582.5" y="646.4" class="r">R:399</text>
<text x="637.5" y="642.5" class="s" text-anchor="middle">2:3</text>
<text x="677.5" y="642" class="n" text-anchor="middle">28</text>
<text x="694" y="650" class="l">-34</text>
<text x="581.5" y="746.2" class="b" textLength="96.0" lengthAdjust="spacingAndGlyphs">Мельников А. М.</text>
<text x="582" y="776.9" class="n" textLength="77.9" lengthAdjust="spacingAndGlyphs">Слепнев Д. В.</text>
<text x="582.5" y="755.8" class="r">R:524</text>
<text x="582.5" y="766.4" class="r">R:398</text>
<text x="637.5" y="762.5" class="s" text-anchor="middle">3:0</text>
<text x="677.5" y="762" class="n" text-anchor="middle">29</text>
<text x="694" y="770" class="l">-34</text>
<text x="756.5" y="626.2" class="b" textLength="78.1" lengthAdjust="spacingAndGlyphs">Комаров А. А.</text>
<text x="757" y="656.9" class="n" textLength="64.1" lengthAdjust="spacingAndGlyphs">Салов Н. А.</text>
<text x="757.5" y="635.8" class="r">R:450</text>
<text x="757.5" y="646.4" class="r">R:399</text>
<text x="812.5" y="642.5" class="s" text-anchor="middle">3:0</text>
<text x="852.5" y="642" class="n" text-anchor="middle">30</text>
<text x="731" y="627" class="n" text-anchor="middle">-16</text>
<text x="869" y="648" class="l">-33</text>
<text x="757" y="746.6" class="n" textLength="82.2" lengthAdjust="spacingAndGlyphs">Андронов Д. А.</text>
<text x="756.5" y="776.7" class="b" textLength="96.0" lengthAdjust="spacingAndGlyphs">Мельников А. М.</text>
<text x="757.5" y="755.8" class="r">R:586</text>
<text x="757.5" y="766.4" class="r">R:524</text>
<text x="812.5" y="762.5" class="s" text-anchor="middle">2:3</text>
<text x="852.5" y="762" class="n" text-anchor="middle">31</text>
<text x="731" y="747" class="n" text-anchor="middle">-15</text>
<text x="869" y="755" class="l">-33</text>
<text x="932" y="686.6" class="n" textLength="75.6" lengthAdjust="spacingAndGlyphs">Комаров А. А.</text>
<text x="931.5" y="716.7" class="b" textLength="96.0" lengthAdjust="spacingAndGlyphs">Мельников А. М.</text>
<text x="932.5" y="695.8" class="r">R:450</text>
<text x="932.5" y="706.4" class="r">R:524</text>
<text x="987.5" y="702.5" class="s" text-anchor="middle">0:3</text>
<text x="1027.5" y="702" class="n" text-anchor="middle">32</text>
<text x="1040.5" y="685" class="p" text-anchor="middle">4</text>
<text x="1040.5" y="721" class="p" text-anchor="middle">3</text>
<text x="57" y="871.6" class="n" textLength="92.0" lengthAdjust="spacingAndGlyphs">Ивановский С....</text>
<text x="56.5" y="901.7" class="b" textLength="70.0" lengthAdjust="spacingAndGlyphs">Малых Н. Н.</text>
<text x="57.5" y="880.8" class="r">R:509</text>
<text x="57.5" y="891.4" class="r">R:311</text>
<text x="112.5" y="887.5" class="s" text-anchor="middle">1:3</text>
<text x="152.5" y="887" class="n" text-anchor="middle">39</text>
<text x="31" y="872" class="n" text-anchor="middle">-20</text>
<text x="31" y="902" class="n" text-anchor="middle">-21</text>
<text x="169" y="893" class="l">-42</text>
<text x="57" y="931.6" class="n" textLength="96.1" lengthAdjust="spacingAndGlyphs">Шелковников А...</text>
<text x="56.5" y="961.7" class="b" textLength="65.9" lengthAdjust="spacingAndGlyphs">Елгин Ю. А.</text>
<text x="57.5" y="940.8" class="r">R:523</text>
<text x="57.5" y="951.4" class="r">R:368</text>
<text x="112.5" y="947.5" class="s" text-anchor="middle">Тех</text>
<text x="152.5" y="947" class="n" text-anchor="middle">40</text>
<text x="31" y="932" class="n" text-anchor="middle">-22</text>
<text x="31" y="962" class="n" text-anchor="middle">-23</text>
<text x="169" y="940" class="l">-42</text>
<text x="231.5" y="901.2" class="b" textLength="70.0" lengthAdjust="spacingAndGlyphs">Малых Н. Н.</text>
<text x="232" y="931.9" class="n" textLength="63.5" lengthAdjust="spacingAndGlyphs">Елгин Ю. А.</text>
<text x="232.5" y="910.8" class="r">R:311</text>
<text x="232.5" y="921.4" class="r">R:368</text>
<text x="287.5" y="917.5" class="s" text-anchor="middle">3:1</text>
<text x="327.5" y="917" class="n" text-anchor="middle">41</text>
<text x="340.5" y="900" class="p" text-anchor="middle">13</text>
<text x="340.5" y="936" class="p" text-anchor="middle">14</text>
<text x="407" y="871.6" class="n" textLength="68.0" lengthAdjust="spacingAndGlyphs">Балуев И. А.</text>
<text x="406.5" y="901.7" class="b" textLength="80.1" lengthAdjust="spacingAndGlyphs">Солодов А. В.</text>
<text x="407.5" y="880.8" class="r">R:337</text>
<text x="407.5" y="891.4" class="r">R:593</text>
<text x="462.5" y="887.5" class="s" text-anchor="middle">Тех</text>
<text x="502.5" y="887" class="n" text-anchor="middle">35</text>
<text x="381" y="872" class="n" text-anchor="middle">-24</text>
<text x="381" y="902" class="n" text-anchor="middle">-25</text>
<text x="519" y="893" class="l">-38</text>
<text x="406.5" y="931.2" class="b" textLength="84.1" lengthAdjust="spacingAndGlyphs">Аброскин А. Н.</text>
<text x="407" y="961.9" class="n" textLength="77.5" lengthAdjust="spacingAndGlyphs">Шаталов В. В.</text>
<text x="407.5" y="940.8" class="r">R:583</text>
<text x="407.5" y="951.4" class="r">R:492</text>
<text x="462.5" y="947.5" class="s" text-anchor="middle">Тех</text>
<text x="502.5" y="947" class="n" text-anchor="middle">36</text>
<text x="381" y="932" class="n" text-anchor="middle">-26</text>
<text x="381" y="962" class="n" text-anchor="middle">-27</text>
<text x="519" y="940" class="l">-38</text>
<text x="582" y="901.6" class="n" textLength="76.6" lengthAdjust="spacingAndGlyphs">Солодов А. В.</text>
<text x="581.5" y="931.7" class="b" textLength="84.1" lengthAdjust="spacingAndGlyphs">Аброскин А. Н.</text>
<text x="582.5" y="910.8" class="r">R:593</text>
<text x="582.5" y="921.4" class="r">R:583</text>
<text x="637.5" y="917.5" class="s" text-anchor="middle">0:3</text>
<text x="677.5" y="917" class="n" text-anchor="middle">37</text>
<text x="690.5" y="900" class="p" text-anchor="middle">10</text>
<text x="690.5" y="936" class="p" text-anchor="middle">9</text>
<text x="757" y="871.6" class="n" textLength="78.1" lengthAdjust="spacingAndGlyphs">Шуралев К. С.</text>
<text x="756.5" y="901.7" class="b" textLength="80.1" lengthAdjust="spacingAndGlyphs">Слепнев Д. В.</text>
<text x="757.5" y="880.8" class="r">R:567</text>
<text x="757.5" y="891.4" class="r">R:398</text>
<text x="812.5" y="887.5" class="s" text-anchor="middle">2:3</text>
<text x="852.5" y="887" class="n" text-anchor="middle">34</text>
<text x="731" y="872" class="n" text-anchor="middle">-28</text>
<text x="731" y="902" class="n" text-anchor="middle">-29</text>
<text x="865.5" y="870" class="p" text-anchor="middle">8</text>
<text x="865.5" y="906" class="p" text-anchor="middle">7</text>
<text x="932" y="871.6" class="n" textLength="64.1" lengthAdjust="spacingAndGlyphs">Салов Н. А.</text>
<text x="931.5" y="901.7" class="b" textLength="87.4" lengthAdjust="spacingAndGlyphs">Андронов Д. А.</text>
<text x="932.5" y="880.8" class="r">R:399</text>
<text x="932.5" y="891.4" class="r">R:586</text>
<text x="987.5" y="887.5" class="s" text-anchor="middle">1:3</text>
<text x="1027.5" y="887" class="n" text-anchor="middle">33</text>
<text x="906" y="872" class="n" text-anchor="middle">-30</text>
<text x="906" y="902" class="n" text-anchor="middle">-31</text>
<text x="1040.5" y="870" class="p" text-anchor="middle">6</text>
<text x="1040.5" y="906" class="p" text-anchor="middle">5</text>
<text x="57" y="1026.6" class="n" textLength="78.1" lengthAdjust="spacingAndGlyphs">Душенин А. И.</text>
<text x="56.5" y="1056.7" class="b" textLength="84.3" lengthAdjust="spacingAndGlyphs">Кадейкин С. А.</text>
<text x="57.5" y="1035.8" class="r">R:305</text>
<text x="57.5" y="1046.4" class="r">R:393</text>
<text x="112.5" y="1042.5" class="s" text-anchor="middle">1:3</text>
<text x="152.5" y="1042" class="n" text-anchor="middle">43</text>
<text x="31" y="1027" class="n" text-anchor="middle">-18</text>
<text x="31" y="1057" class="n" text-anchor="middle">-19</text>
<text x="165.5" y="1025" class="p" text-anchor="middle">18</text>
<text x="165.5" y="1061" class="p" text-anchor="middle">17</text>
<text x="231.5" y="1026.2" class="b" textLength="93.4" lengthAdjust="spacingAndGlyphs">Ивановский С....</text>
<text x="232" y="1056.9" class="n" textLength="96.1" lengthAdjust="spacingAndGlyphs">Шелковников А...</text>
<text x="232.5" y="1035.8" class="r">R:509</text>
<text x="232.5" y="1046.4" class="r">R:523</text>
<text x="287.5" y="1042.5" class="s" text-anchor="middle">Тех</text>
<text x="327.5" y="1042" class="n" text-anchor="middle">42</text>
<text x="206" y="1027" class="n" text-anchor="middle">-39</text>
<text x="206" y="1057" class="n" text-anchor="middle">-40</text>
<text x="340.5" y="1025" class="p" text-anchor="middle">15</text>
<text x="340.5" y="1061" class="p" text-anchor="middle">16</text>
<text x="407" y="1026.6" class="n" textLength="68.0" lengthAdjust="spacingAndGlyphs">Балуев И. А.</text>
<text x="407" y="1056.9" class="n" textLength="77.5" lengthAdjust="spacingAndGlyphs">Шаталов В. В.</text>
<text x="407.5" y="1035.8" class="r">R:337</text>
<text x="407.5" y="1046.4" class="r">R:492</text>
<text x="464" y="1042.5" class="tg" text-anchor="middle">Тех</text>
<text x="502.5" y="1042" class="n" text-anchor="middle">38</text>
<text x="381" y="1027" class="n" text-anchor="middle">-35</text>
<text x="381" y="1057" class="n" text-anchor="middle">-36</text>
<text x="515.5" y="1025" class="p" text-anchor="middle">12</text>
<text x="515.5" y="1061" class="p" text-anchor="middle">12</text>
</g>
</svg>
</body></html>
